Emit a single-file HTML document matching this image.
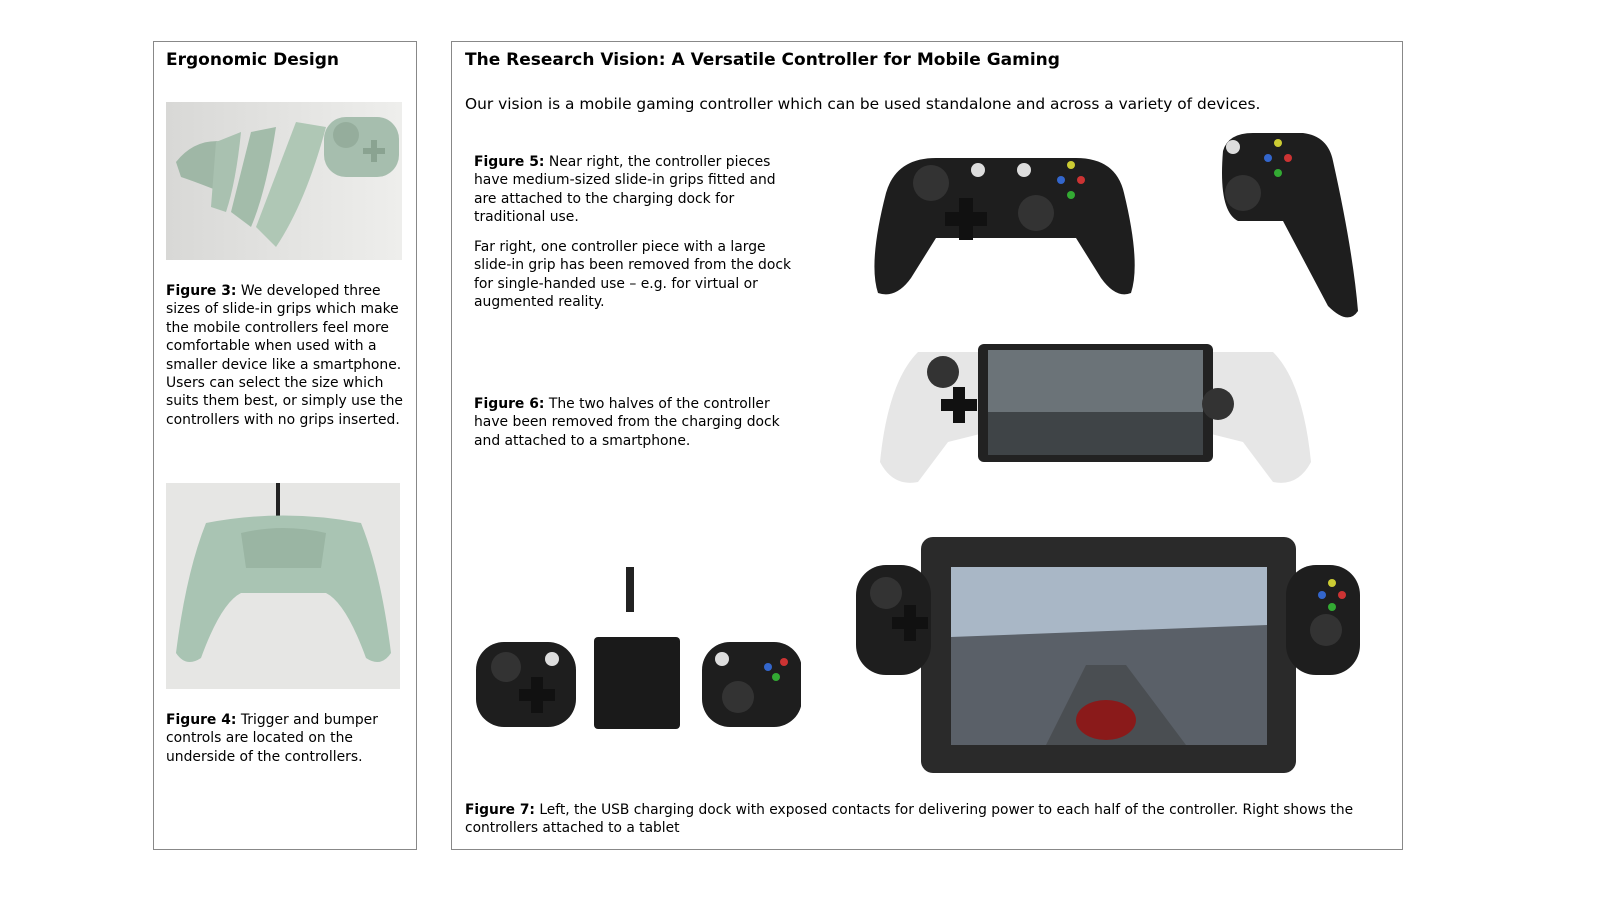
<!DOCTYPE html>
<html><head><meta charset="utf-8"><style>
body{margin:0;width:1600px;height:900px;background:#fff;position:relative;overflow:hidden;font-family:"DejaVu Sans","Liberation Sans",sans-serif;color:#000}
.box{position:absolute;border:1.5px solid #888;box-sizing:border-box}
.t{position:absolute;font-size:13.9px;line-height:18.4px}
h1{position:absolute;margin:0;font-size:17px;font-weight:bold}
.abs{position:absolute}
</style></head><body>
<div class="box" style="left:153px;top:41px;width:264px;height:809px"></div>
<div class="box" style="left:451px;top:41px;width:952px;height:809px"></div>
<h1 style="left:166px;top:50px">Ergonomic Design</h1>
<h1 style="left:465px;top:50px">The Research Vision: A Versatile Controller for Mobile Gaming</h1>
<div class="t" style="left:465px;top:95px;font-size:15.4px">Our vision is a mobile gaming controller which can be used standalone and across a variety of devices.</div>

<svg class="abs" style="left:166px;top:102px" width="236" height="158">
<defs><linearGradient id="g1" x1="0" x2="1"><stop offset="0" stop-color="#d8d8d6"/><stop offset="1" stop-color="#eeeeec"/></linearGradient></defs>
<rect width="236" height="158" fill="url(#g1)"/>
<path d="M10 60 Q30 35 60 40 L55 90 Q30 80 15 75Z" fill="#9fb7a6"/>
<path d="M50 40 L75 30 Q70 80 60 110 L45 105Z" fill="#a9c1b0"/>
<path d="M85 30 L110 25 Q100 90 85 125 L65 110Z" fill="#a3bcaa"/>
<path d="M130 20 L160 25 Q140 100 110 145 L90 125Z" fill="#afc7b5"/>
<rect x="158" y="15" width="75" height="60" rx="22" fill="#a6beae"/>
<circle cx="180" cy="33" r="13" fill="#95ad9c"/>
<path d="M205 38h6v8h8v6h-8v8h-6v-8h-8v-6h8z" fill="#8aa391"/>
</svg>
<div class="t" style="left:166px;top:282px;width:245px"><b>Figure 3:</b> We developed three sizes of slide-in grips which make the mobile controllers feel more comfortable when used with a smaller device like a smartphone. Users can select the size which suits them best, or simply use the controllers with no grips inserted.</div>

<svg class="abs" style="left:166px;top:483px" width="234" height="206">
<rect width="234" height="206" fill="#e6e6e4"/>
<rect x="110" y="0" width="4" height="40" fill="#222"/>
<path d="M40 40 Q117 25 195 40 Q215 90 225 170 Q215 185 200 175 Q180 120 160 110 L75 110 Q55 120 35 175 Q20 185 10 170 Q20 90 40 40Z" fill="#a9c4b3"/>
<path d="M75 50 Q117 40 160 50 L155 85 L80 85Z" fill="#9ab5a3"/>
</svg>
<div class="t" style="left:166px;top:711px;width:245px"><b>Figure 4:</b> Trigger and bumper controls are located on the underside of the controllers.</div>

<div class="t" style="left:474px;top:153px;width:320px"><b>Figure 5:</b> Near right, the controller pieces have medium-sized slide-in grips fitted and are attached to the charging dock for traditional use.</div>
<div class="t" style="left:474px;top:238px;width:320px">Far right, one controller piece with a large slide-in grip has been removed from the dock for single-handed use – e.g. for virtual or augmented reality.</div>
<div class="t" style="left:474px;top:395px;width:330px"><b>Figure 6:</b> The two halves of the controller have been removed from the charging dock and attached to a smartphone.</div>
<div class="t" style="left:465px;top:801px;width:930px;font-size:13.8px"><b>Figure 7:</b> Left, the USB charging dock with exposed contacts for delivering power to each half of the controller. Right shows the controllers attached to a tablet</div>

<svg class="abs" style="left:866px;top:153px" width="276" height="146">
<path d="M20 40 Q30 5 70 5 L210 5 Q250 5 258 40 Q275 110 265 140 Q250 146 235 125 L210 85 L70 85 L45 125 Q30 146 12 140 Q2 110 20 40Z" fill="#1e1e1e"/>
<circle cx="65" cy="30" r="18" fill="#333"/><circle cx="170" cy="60" r="18" fill="#333"/>
<path d="M93 45h14v14h14v14h-14v14h-14v-14h-14v-14h14z" fill="#111"/>
<circle cx="112" cy="17" r="7" fill="#ddd"/><circle cx="158" cy="17" r="7" fill="#ddd"/>
<circle cx="205" cy="12" r="4" fill="#cc3"/><circle cx="195" cy="27" r="4" fill="#36c"/><circle cx="215" cy="27" r="4" fill="#c33"/><circle cx="205" cy="42" r="4" fill="#3a3"/>
</svg>
<svg class="abs" style="left:1213px;top:131px" width="146" height="191">
<path d="M10 20 Q15 2 40 2 L90 2 Q115 5 120 30 Q140 120 145 180 Q135 195 115 175 L70 90 L25 90 Q5 80 10 20Z" fill="#1e1e1e"/>
<circle cx="30" cy="62" r="18" fill="#333"/><circle cx="20" cy="16" r="7" fill="#ddd"/>
<circle cx="65" cy="12" r="4" fill="#cc3"/><circle cx="55" cy="27" r="4" fill="#36c"/><circle cx="75" cy="27" r="4" fill="#c33"/><circle cx="65" cy="42" r="4" fill="#3a3"/>
</svg>
<svg class="abs" style="left:878px;top:342px" width="435" height="145">
<path d="M40 10 L110 10 L110 90 L70 100 L40 140 Q15 145 2 120 Q10 40 40 10Z" fill="#e6e6e6"/>
<path d="M395 10 L325 10 L325 90 L365 100 L395 140 Q420 145 433 120 Q425 40 395 10Z" fill="#e6e6e6"/>
<rect x="100" y="2" width="235" height="118" rx="6" fill="#222"/>
<rect x="110" y="8" width="215" height="105" fill="#6b7378"/>
<rect x="110" y="70" width="215" height="43" fill="#3f4447"/>
<circle cx="65" cy="30" r="16" fill="#333"/><circle cx="340" cy="62" r="16" fill="#333"/>
<path d="M75 45h12v12h12v12h-12v12h-12v-12h-12v-12h12z" fill="#111"/>
</svg>
<svg class="abs" style="left:476px;top:567px" width="325" height="164">
<rect x="150" y="0" width="8" height="45" fill="#222"/>
<rect x="0" y="75" width="100" height="85" rx="28" fill="#1e1e1e"/>
<circle cx="30" cy="100" r="15" fill="#333"/><circle cx="76" cy="92" r="7" fill="#ddd"/>
<path d="M55 110h12v12h12v12h-12v12h-12v-12h-12v-12h12z" fill="#111"/>
<rect x="118" y="70" width="86" height="92" rx="4" fill="#1a1a1a"/>
<rect x="226" y="75" width="100" height="85" rx="28" fill="#1e1e1e"/>
<circle cx="262" cy="130" r="16" fill="#333"/><circle cx="246" cy="92" r="7" fill="#ddd"/>
<circle cx="292" cy="100" r="4" fill="#36c"/><circle cx="308" cy="95" r="4" fill="#c33"/><circle cx="300" cy="110" r="4" fill="#3a3"/>
</svg>
<svg class="abs" style="left:856px;top:535px" width="504" height="240">
<rect x="65" y="2" width="375" height="236" rx="12" fill="#2a2a2a"/>
<rect x="95" y="32" width="316" height="178" fill="#8a96a2"/>
<rect x="95" y="32" width="316" height="70" fill="#a9b7c6"/>
<path d="M95 102 L411 90 L411 210 L95 210Z" fill="#5a6068"/>
<path d="M190 210 L230 130 L270 130 L330 210Z" fill="#4a4e52"/>
<ellipse cx="250" cy="185" rx="30" ry="20" fill="#8a1a1a"/>
<rect x="0" y="30" width="75" height="110" rx="30" fill="#1e1e1e"/>
<rect x="430" y="30" width="74" height="110" rx="30" fill="#1e1e1e"/>
<circle cx="30" cy="58" r="16" fill="#333"/><circle cx="470" cy="95" r="16" fill="#333"/>
<path d="M48 70h12v12h12v12h-12v12h-12v-12h-12v-12h12z" fill="#111"/>
<circle cx="476" cy="48" r="4" fill="#cc3"/><circle cx="466" cy="60" r="4" fill="#36c"/><circle cx="486" cy="60" r="4" fill="#c33"/><circle cx="476" cy="72" r="4" fill="#3a3"/>
</svg>
</body></html>
